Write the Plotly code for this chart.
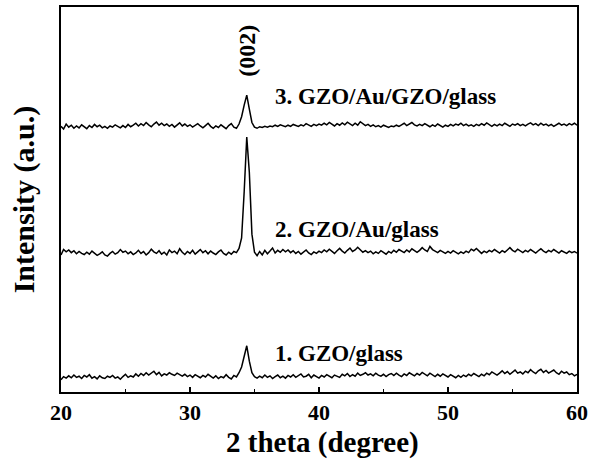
import plotly.graph_objects as go

# 2-theta grid (degrees), step 0.2
two_theta = [
    20.0, 20.2, 20.4, 20.6, 20.8, 21.0, 21.2, 21.4, 21.6, 21.8,
    22.0, 22.2, 22.4, 22.6, 22.8, 23.0, 23.2, 23.4, 23.6, 23.8,
    24.0, 24.2, 24.4, 24.6, 24.8, 25.0, 25.2, 25.4, 25.6, 25.8,
    26.0, 26.2, 26.4, 26.6, 26.8, 27.0, 27.2, 27.4, 27.6, 27.8,
    28.0, 28.2, 28.4, 28.6, 28.8, 29.0, 29.2, 29.4, 29.6, 29.8,
    30.0, 30.2, 30.4, 30.6, 30.8, 31.0, 31.2, 31.4, 31.6, 31.8,
    32.0, 32.2, 32.4, 32.6, 32.8, 33.0, 33.2, 33.4, 33.6, 33.8,
    34.0, 34.2, 34.4, 34.6, 34.8, 35.0, 35.2, 35.4, 35.6, 35.8,
    36.0, 36.2, 36.4, 36.6, 36.8, 37.0, 37.2, 37.4, 37.6, 37.8,
    38.0, 38.2, 38.4, 38.6, 38.8, 39.0, 39.2, 39.4, 39.6, 39.8,
    40.0, 40.2, 40.4, 40.6, 40.8, 41.0, 41.2, 41.4, 41.6, 41.8,
    42.0, 42.2, 42.4, 42.6, 42.8, 43.0, 43.2, 43.4, 43.6, 43.8,
    44.0, 44.2, 44.4, 44.6, 44.8, 45.0, 45.2, 45.4, 45.6, 45.8,
    46.0, 46.2, 46.4, 46.6, 46.8, 47.0, 47.2, 47.4, 47.6, 47.8,
    48.0, 48.2, 48.4, 48.6, 48.8, 49.0, 49.2, 49.4, 49.6, 49.8,
    50.0, 50.2, 50.4, 50.6, 50.8, 51.0, 51.2, 51.4, 51.6, 51.8,
    52.0, 52.2, 52.4, 52.6, 52.8, 53.0, 53.2, 53.4, 53.6, 53.8,
    54.0, 54.2, 54.4, 54.6, 54.8, 55.0, 55.2, 55.4, 55.6, 55.8,
    56.0, 56.2, 56.4, 56.6, 56.8, 57.0, 57.2, 57.4, 57.6, 57.8,
    58.0, 58.2, 58.4, 58.6, 58.8, 59.0, 59.2, 59.4, 59.6, 59.8,
    60.0,
]

# 1. GZO/glass (stacked intensity, a.u.)
gzo_glass = [
    3.2, 4.0, 3.6, 4.2, 3.7, 4.4, 3.8, 4.1, 3.5, 4.3,
    3.9, 4.5, 3.6, 4.0, 3.4, 4.2, 3.7, 3.5, 4.1, 3.8,
    4.3, 3.6, 3.9, 3.3, 4.0, 4.6, 3.8, 4.2, 3.9, 4.7,
    4.1, 4.8, 4.3, 5.0, 4.4, 4.9, 5.4, 4.5, 5.1, 4.2,
    4.7, 4.4, 5.0, 4.6, 4.3, 4.9, 4.5, 4.1, 4.6, 4.0,
    4.4, 3.8, 4.5, 4.1, 3.7, 4.3, 3.9, 4.6, 4.0, 3.6,
    4.2, 3.5, 4.0, 3.7, 4.5, 3.8, 3.4, 4.3, 3.9, 5.0,
    6.5, 9.5, 12.0, 8.0, 5.0, 4.0, 3.6, 4.1, 3.7, 4.4,
    3.8, 4.2, 3.5, 4.0, 4.4, 3.7, 4.1, 3.6, 4.3, 3.9,
    4.5, 3.8, 4.2, 4.7, 3.9, 4.1, 4.6, 3.7, 4.4, 4.0,
    3.6, 4.3, 3.9, 4.5, 4.0, 3.7, 4.4, 4.1, 3.8, 4.6,
    4.2, 4.8, 4.0, 4.5, 4.1, 4.9, 4.3, 4.6, 5.0, 4.4,
    4.7, 4.2, 4.9, 4.4, 4.1, 4.6, 4.0, 4.5, 4.8, 4.3,
    4.9, 4.4, 4.0, 4.7, 4.3, 5.0, 4.5, 4.2, 4.8, 4.4,
    5.1, 4.6, 4.2, 4.9, 4.4, 4.0, 4.6, 4.1, 4.7, 4.3,
    3.9, 4.5, 4.1, 3.7, 4.3, 3.8, 4.4, 4.0, 4.6, 4.2,
    4.8, 4.3, 4.0, 4.6, 4.2, 4.9, 4.5, 5.2, 4.7, 4.4,
    4.9, 5.5, 4.8, 5.3, 4.6, 5.1, 5.7, 4.9, 5.2, 4.7,
    5.4, 5.0, 5.8, 5.2, 4.8, 5.5, 5.9, 5.1, 5.6, 4.9,
    5.3, 5.7, 5.0, 4.6, 5.4, 4.9, 5.2, 4.5, 4.8, 4.2,
    4.6,
]

# 2. GZO/Au/glass
gzo_au_glass = [
    35.6, 37.0, 36.4, 36.9, 36.2, 36.7, 35.9, 36.5, 36.0, 35.7,
    36.3, 35.8, 36.6, 36.1, 35.5, 35.9, 36.4, 35.6, 35.3, 36.0,
    36.5, 35.8, 36.2, 37.0, 36.3, 36.6, 35.9, 36.4, 35.7, 36.1,
    36.8, 36.0, 36.5, 35.6, 36.2, 37.1, 36.4, 36.0, 36.7, 35.8,
    36.3, 35.6, 36.9, 36.2, 36.6, 35.9, 37.2, 36.3, 35.7, 36.5,
    36.0, 36.8, 35.8, 36.4, 37.0, 36.2, 36.7, 35.9, 36.6, 36.1,
    35.7, 36.4, 36.9, 36.0, 35.6, 36.3, 35.8, 36.5, 36.2, 37.3,
    40.0, 52.0, 66.2, 57.0, 41.0, 36.3, 35.4, 36.5, 35.6, 36.8,
    35.9, 36.6, 37.4, 36.1, 36.8, 36.3, 37.0, 36.4, 36.9, 36.2,
    36.7, 36.0, 36.5, 35.8, 36.3, 36.9, 36.1, 35.7, 36.4, 36.0,
    36.6, 36.2, 36.9, 36.4, 37.1, 36.5, 36.0, 36.7, 37.3, 36.6,
    36.1, 36.8, 37.4, 36.5, 36.9, 37.6, 36.8, 36.3, 36.7, 36.2,
    36.6, 35.9, 36.4, 36.0, 36.7, 36.3, 35.8, 36.5, 36.1, 36.8,
    36.3, 37.0, 36.6, 36.2, 36.9, 36.4, 37.2, 36.7, 36.3, 36.8,
    37.5, 36.9, 36.5, 37.8, 37.0, 36.6, 36.2, 36.8, 36.4, 36.0,
    36.5, 36.1, 36.7, 36.3, 35.9, 36.4, 36.0, 36.6, 36.2, 37.1,
    36.7, 37.3, 36.5, 36.0, 36.6, 36.2, 36.8, 36.4, 37.0, 36.5,
    36.1, 36.7, 36.3, 36.9, 37.5, 36.8, 36.4, 37.1, 36.6, 36.2,
    36.8, 36.4, 37.0, 36.5, 36.1, 36.7, 37.2, 36.6, 36.2, 36.8,
    36.4, 37.0, 36.5, 36.1, 36.7, 36.3, 36.0, 36.6, 36.2, 36.5,
    36.1,
]

# 3. GZO/Au/GZO/glass
gzo_au_gzo_glass = [
    69.0, 68.3, 69.6, 68.8, 69.3, 68.5, 69.1, 68.6, 69.4, 68.9,
    68.4, 69.2, 68.7, 69.5, 68.9, 69.3, 68.6, 69.0, 68.5, 69.1,
    68.8, 69.4, 69.0, 68.6, 69.2, 68.7, 69.5, 68.9, 69.3, 69.8,
    69.1, 69.7, 69.2, 70.0, 69.4, 68.9, 69.6, 70.1, 69.3, 69.8,
    69.2, 69.6, 69.0, 69.5, 68.8, 69.3, 69.9, 69.1, 69.6, 69.0,
    69.4, 68.8, 69.3, 69.7, 69.1, 68.6, 69.2, 69.8, 69.0, 68.5,
    69.1, 68.7, 69.4, 68.9, 68.4, 69.2, 69.7, 68.8, 68.5, 69.6,
    71.5, 74.5, 77.1, 73.5, 70.0, 68.8, 68.5, 68.9, 68.7, 69.0,
    68.8, 69.1, 68.9, 69.3, 69.0, 69.4, 69.1, 68.9, 69.3, 69.0,
    69.5, 69.2, 69.0, 69.4, 69.1, 69.7, 69.3, 69.0, 69.5, 69.2,
    69.6, 69.3, 69.8, 69.4, 70.0, 69.5, 69.1, 69.7, 69.3, 69.9,
    69.4, 70.1, 69.6, 69.2, 69.8, 69.3, 70.2, 69.7, 69.2, 69.5,
    69.0, 69.4, 68.9, 69.2, 68.8, 69.3, 69.0, 68.7, 69.1, 68.9,
    69.3, 69.0, 69.4, 69.8, 69.2, 69.6, 70.0, 69.4, 69.1, 69.5,
    69.2, 69.7, 69.3, 68.9, 69.4, 69.0, 69.6, 69.2, 68.8, 69.3,
    69.0, 69.5, 69.1, 69.6, 69.3, 69.8, 69.2, 69.6, 69.1, 69.4,
    69.0, 69.5, 69.2, 69.7, 69.3, 69.9, 69.4, 69.0, 69.5, 69.1,
    69.6, 69.2, 69.8, 69.4, 69.0, 69.6, 69.3, 69.7, 69.2, 69.5,
    69.1, 69.6, 69.9, 69.4, 69.7, 69.2, 69.8, 69.3, 69.6, 69.1,
    69.5, 69.0, 69.4, 69.8, 69.3, 69.6, 69.2, 69.7, 69.4, 69.8,
    69.3,
]

series_names = ["1. GZO/glass", "2. GZO/Au/glass", "3. GZO/Au/GZO/glass"]
series_values = [gzo_glass, gzo_au_glass, gzo_au_gzo_glass]
label_x = [36.45, 36.45, 36.45]
label_y = [9.9, 42.3, 76.8]
peak_label = "(002)"
peak_x = 34.4
peak_y = 88.6
x_ticks = [20, 30, 40, 50, 60]
x_title = "2 theta (degree)"
y_title = "Intensity (a.u.)"

FONT = "Liberation Serif"

fig = go.Figure()
for name, vals in zip(series_names, series_values):
    fig.add_trace(go.Scatter(x=two_theta, y=vals, mode="lines", name=name,
                             line=dict(color="black", width=1.5), showlegend=False))

for name, lx, ly in zip(series_names, label_x, label_y):
    fig.add_annotation(x=lx, y=ly, text=name, showarrow=False, xanchor="left", yanchor="middle",
                       font=dict(family=FONT, size=23, color="black", weight="bold"))

fig.add_annotation(x=peak_x, y=peak_y, text=peak_label, showarrow=False, textangle=-90,
                   xanchor="center", yanchor="middle",
                   font=dict(family=FONT, size=24, color="black", weight="bold"))

fig.add_annotation(xref="paper", yref="paper", x=0.507, y=-0.130, text=x_title, showarrow=False,
                   xanchor="center", yanchor="middle",
                   font=dict(family=FONT, size=29, color="black", weight="bold"))
fig.add_annotation(xref="paper", yref="paper", x=-0.072, y=0.500, text=y_title, showarrow=False,
                   textangle=-90, xanchor="center", yanchor="middle",
                   font=dict(family=FONT, size=30, color="black", weight="bold"))

fig.update_layout(
    width=589, height=461, autosize=False,
    margin=dict(l=61, r=12, t=7, b=69),
    paper_bgcolor="white", plot_bgcolor="white",
    xaxis=dict(range=[20, 60], tickvals=x_ticks, ticks="inside", ticklen=5, tickwidth=1.5,
               tickcolor="black", showline=True, linecolor="black", linewidth=1.5, mirror=True,
               showgrid=False, zeroline=False, automargin=False,
               tickfont=dict(family=FONT, size=22, color="black", weight="bold"),
               minor=dict(ticks="inside", ticklen=3, tickwidth=1, tickcolor="black",
                          tickvals=[25, 35, 45, 55], showgrid=False)),
    yaxis=dict(range=[0, 100], showticklabels=False, ticks="", showline=True, linecolor="black",
               linewidth=1.5, mirror=True, showgrid=False, zeroline=False, automargin=False),
)

fig.write_html("out.html", config={"displayModeBar": False},
               post_script="document.body.style.margin='0px';")
